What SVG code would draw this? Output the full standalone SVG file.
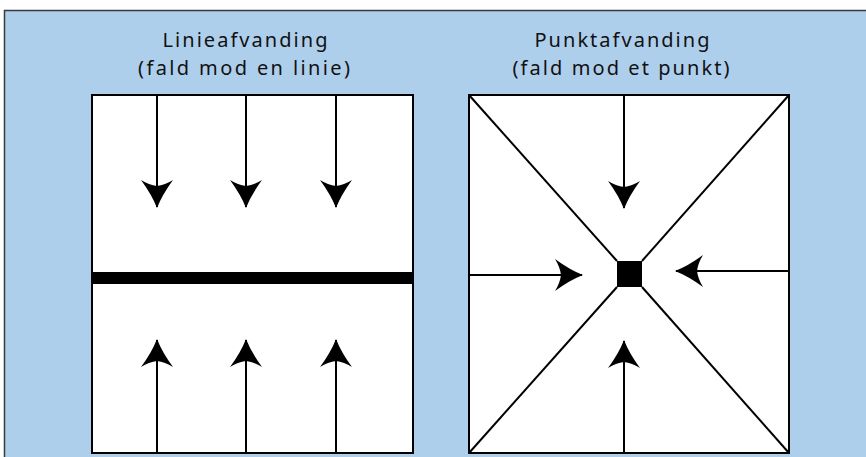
<svg xmlns="http://www.w3.org/2000/svg" width="866" height="457" viewBox="0 0 866 457">
<style>
.bg{fill:#aecfec;stroke:#3a3a3a;stroke-width:1.5}
.box{fill:#fff;stroke:#000;stroke-width:2}
.ln{stroke:#000;stroke-width:2;fill:none}
.title{font-family:"Noto Sans","Open Sans",sans-serif;font-size:20px;fill:#111;text-anchor:middle}
</style>
<defs>
<marker id="ah" viewBox="-30 -18 32 36" refX="0" refY="0" markerWidth="32" markerHeight="36" markerUnits="userSpaceOnUse" orient="auto">
<path d="M1,0 Q-12,-5 -27,-16 Q-22,-8 -21,0 Q-22,8 -27,16 Q-12,5 1,0Z" fill="#000"/>
</marker>
</defs>
<rect class="bg" x="4.5" y="10.5" width="870" height="460"/>
<g id="left-title">
<text class="title" x="245" y="47" textLength="165" lengthAdjust="spacing">Linieafvanding</text>
<text class="title" x="244" y="75" textLength="212" lengthAdjust="spacing">(fald mod en linie)</text>
</g>
<g id="right-title">
<text class="title" x="622" y="47" textLength="175" lengthAdjust="spacing">Punktafvanding</text>
<text class="title" x="621" y="75" textLength="217" lengthAdjust="spacing">(fald mod et punkt)</text>
</g>
<g id="left-box">
<rect class="box" x="92" y="95" width="321" height="358"/>
<rect id="drain-line" x="92" y="272" width="321" height="12" fill="#000"/>
</g>
<g id="right-box">
<rect class="box" x="469" y="95" width="320" height="358"/>
<rect id="drain-point" x="617" y="261" width="25" height="26" fill="#000"/>
</g>
<g id="connectors">
<line class="ln" x1="157" y1="96" x2="157" y2="207" marker-end="url(#ah)"/>
<line class="ln" x1="246" y1="96" x2="246" y2="207" marker-end="url(#ah)"/>
<line class="ln" x1="336" y1="96" x2="336" y2="207" marker-end="url(#ah)"/>
<line class="ln" x1="157" y1="452" x2="157" y2="340" marker-end="url(#ah)"/>
<line class="ln" x1="246" y1="452" x2="246" y2="340" marker-end="url(#ah)"/>
<line class="ln" x1="336" y1="452" x2="336" y2="340" marker-end="url(#ah)"/>
<line class="ln" x1="469" y1="95" x2="617" y2="261"/>
<line class="ln" x1="789" y1="95" x2="642" y2="261"/>
<line class="ln" x1="469" y1="453" x2="617" y2="287"/>
<line class="ln" x1="789" y1="453" x2="642" y2="287"/>
<line class="ln" x1="624" y1="96" x2="624" y2="208" marker-end="url(#ah)"/>
<line class="ln" x1="624" y1="452" x2="624" y2="341" marker-end="url(#ah)"/>
<line class="ln" x1="470" y1="275" x2="582" y2="275" marker-end="url(#ah)"/>
<line class="ln" x1="788" y1="271" x2="676" y2="271" marker-end="url(#ah)"/>
</g>
</svg>
